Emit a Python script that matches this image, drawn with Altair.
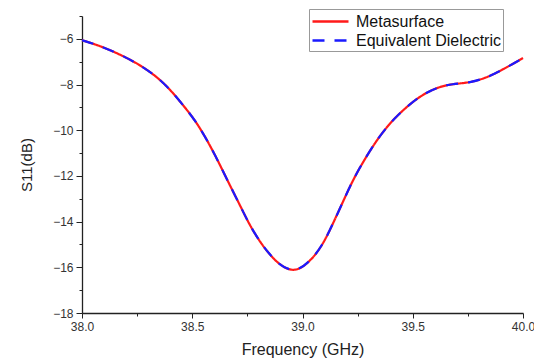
import altair as alt
import pandas as pd

freq = [38.00, 38.08, 38.17, 38.26, 38.34, 38.40, 38.46, 38.52, 38.58, 38.63, 38.67,
        38.72, 38.76, 38.81, 38.85, 38.89, 38.96, 39.03, 39.09, 39.14, 39.185, 39.23,
        39.28, 39.34, 39.40, 39.46, 39.53, 39.61, 39.68, 39.76, 39.835, 39.91, 40.00]
s11 = [-6.06, -6.30, -6.67, -7.12, -7.66, -8.22, -8.92, -9.65, -10.65, -11.60, -12.40,
       -13.35, -14.15, -14.93, -15.42, -15.85, -16.25, -15.80, -15.06, -14.05, -13.10, -12.15,
       -11.30, -10.38, -9.65, -9.08, -8.52, -8.12, -7.97, -7.92, -7.70, -7.34, -6.84]
series = ["Metasurface", "Equivalent Dielectric"]
colors = ["#ff1a1a", "#1a1aff"]
dashes = [[1, 0], [12, 10]]

df = pd.concat([pd.DataFrame({"f": freq, "s": s11, "series": name}) for name in series])

x_ticks = [38 + 0.25 * i for i in range(9)]
y_ticks = list(range(-18, -4))

font = "Liberation Sans"

x = alt.X("f:Q", title="Frequency (GHz)",
          scale=alt.Scale(domain=[38, 40], nice=False, zero=False),
          axis=alt.Axis(values=x_ticks, format=".1f", grid=False, labelFlush=False,
                        labelExpr="abs(datum.value*2 - round(datum.value*2)) < 0.01 ? datum.label : ''",
                        tickSize={"condition": {"test": "abs(datum.value*2 - round(datum.value*2)) < 0.01", "value": 5}, "value": 3},
                        labelPadding=3, titlePadding=9, titleFontSize=16))
y = alt.Y("s:Q", title="S11(dB)",
          scale=alt.Scale(domain=[-18, -5], nice=False, zero=False),
          axis=alt.Axis(values=y_ticks, grid=False, labelFlush=False,
                        labelExpr="datum.value % 2 === 0 ? datum.label : ''",
                        tickSize={"condition": {"test": "datum.value % 2 === 0", "value": 6}, "value": 3},
                        labelPadding=3, titlePadding=18))
legend = alt.Legend(title=None, orient="none", legendX=227, legendY=-7,
                    symbolType="M-1,0H3", symbolSize=324, symbolStrokeWidth=2.5,
                    symbolFillColor="transparent",
                    labelFontSize=16, labelFont=font, labelColor="#111",
                    strokeColor="#999", fillColor="white", padding=2,
                    rowPadding=0, labelOffset=24)
color = alt.Color("series:N", sort=series,
                  scale=alt.Scale(domain=series, range=colors), legend=legend)
dash = alt.StrokeDash("series:N", sort=series,
                      scale=alt.Scale(domain=series, range=dashes), legend=legend)

red = alt.Chart(df).transform_filter(alt.datum.series == series[0]).mark_line(
    strokeWidth=2.2, interpolate="basis").encode(x=x, y=y, color=color, strokeDash=dash)
blue = alt.Chart(df).transform_filter(alt.datum.series == series[1]).mark_line(
    strokeWidth=2.2, interpolate="basis").encode(x=x, y=y, color=color, strokeDash=dash)

chart = alt.layer(red, blue).properties(
    width=441, height=297,
    autosize=alt.AutoSizeParams(type="none"),
    padding={"left": 82, "top": 16, "right": 11, "bottom": 50},
    background="white",
).configure_view(stroke=None).configure_axis(
    domainColor="#222", domainWidth=1.3, tickColor="#222", tickWidth=1,
    labelColor="#333", labelFont=font, labelFontSize=12,
    titleColor="#222", titleFont=font, titleFontSize=15, titleFontWeight="normal",
)

chart.save("out.html", embed_options={"renderer": "svg", "actions": False})
